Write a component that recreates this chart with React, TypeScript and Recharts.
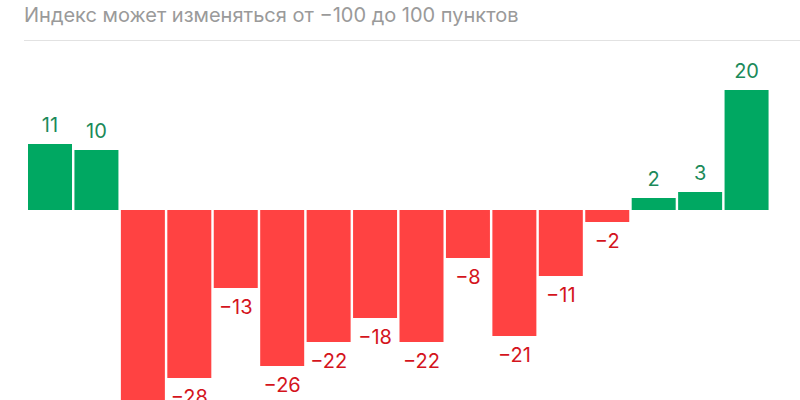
import { BarChart, Bar, XAxis, YAxis, Cell, LabelList } from 'recharts';

const periods = ['1', '2', '3', '4', '5', '6', '7', '8', '9', '10', '11', '12', '13', '14', '15', '16'];
const indexValues = [11, 10, -40, -28, -13, -26, -22, -18, -22, -8, -21, -11, -2, 2, 3, 20];

const data = periods.map((p, i) => ({ label: p, value: indexValues[i] }));

const GREEN = '#00a862';
const GREEN_TEXT = '#1b8a5a';
const RED = '#ff4242';
const RED_TEXT = '#d4141c';

function ValueLabel(props: any) {
  const { x, y, width, height, value } = props;
  const top = Math.min(y, y + height);
  const bottom = Math.max(y, y + height);
  const neg = value < 0;
  const text = neg ? '\u2212' + Math.abs(value) : String(value);
  return (
    <text
      x={x + width / 2}
      y={neg ? bottom + 19 : top - 19}
      textAnchor="middle"
      dominantBaseline="central"
      fill={neg ? RED_TEXT : GREEN_TEXT}
      fontSize={20}
      fontFamily="Inter, 'Noto Sans', sans-serif"
    >
      {text}
    </text>
  );
}

export default function App() {
  return (
    <div style={{ position: 'absolute', left: 0, top: 0, width: 800, height: 400, overflow: 'hidden', background: '#fff' }}>
      <div
        style={{
          position: 'absolute',
          left: 24,
          top: 2,
          fontFamily: "Inter, 'Noto Sans', sans-serif",
          fontSize: 20,
          lineHeight: '26px',
          color: '#9a9a9a',
          whiteSpace: 'nowrap',
        }}
      >
        Индекс может изменяться от −100 до 100 пунктов
      </div>
      <div style={{ position: 'absolute', left: 24, top: 40, width: 776, height: 1, background: '#e2e2e2' }} />
      <div style={{ position: 'absolute', left: 0, top: 0 }}>
        <BarChart width={800} height={440} data={data} margin={{ top: 60, right: 30, left: 27, bottom: 20 }} barSize={44}>
          <XAxis dataKey="label" hide />
          <YAxis hide domain={[-35, 25]} allowDataOverflow />
          <Bar dataKey="value" isAnimationActive={false}>
            {data.map((d, i) => (
              <Cell key={i} fill={d.value < 0 ? RED : GREEN} />
            ))}
            <LabelList dataKey="value" content={<ValueLabel />} />
          </Bar>
        </BarChart>
      </div>
    </div>
  );
}
